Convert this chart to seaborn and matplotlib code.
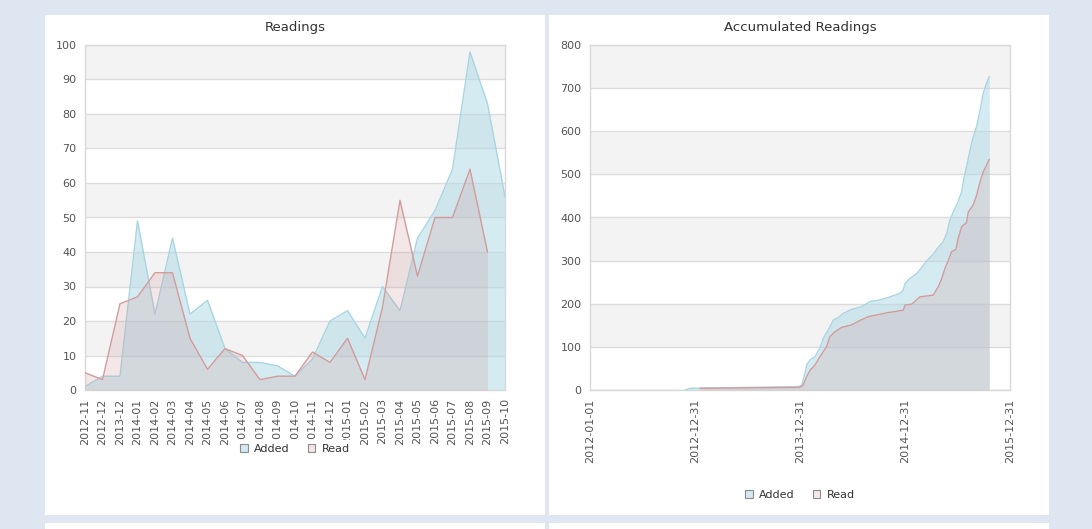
import numpy as np
import pandas as pd
import matplotlib
matplotlib.use("Agg")
import matplotlib.pyplot as plt
import matplotlib.dates as mdates
from matplotlib.patches import Patch, Rectangle
import seaborn as sns

# ------------------------------------------
# data
# ------------------------------------------
months = ['2012-11', '2012-12', '2013-12', '2014-01', '2014-02', '2014-03', '2014-04',
          '2014-05', '2014-06', '2014-07', '2014-08', '2014-09', '2014-10', '2014-11',
          '2014-12', '2015-01', '2015-02', '2015-03', '2015-04', '2015-05', '2015-06',
          '2015-07', '2015-08', '2015-09', '2015-10']
added_monthly = [1, 4, 4, 49, 22, 44, 22, 26, 12, 8, 8, 7, 4, 9, 20, 23, 15, 30, 23,
                 44, 52, 64, 98, 83, 56]
read_monthly = [5, 3, 25, 27, 34, 34, 15, 6, 12, 10, 3, 4, 4, 11, 8, 15, 3, 24, 55,
                33, 50, 50, 64, 40]

added_dates = ['2012-11-26', '2012-12-14', '2013-12-28', '2014-01-06', '2014-01-17',
               '2014-01-23', '2014-02-04', '2014-02-21', '2014-03-10', '2014-03-22',
               '2014-04-08', '2014-04-26', '2014-05-13', '2014-05-31', '2014-06-28',
               '2014-08-02', '2014-08-31', '2014-10-05', '2014-11-09', '2014-12-13',
               '2014-12-25', '2014-12-31', '2015-01-17', '2015-02-10', '2015-02-27',
               '2015-03-16', '2015-04-08', '2015-04-26', '2015-05-13', '2015-05-25',
               '2015-06-05', '2015-06-17', '2015-07-04', '2015-07-16', '2015-07-24',
               '2015-08-02', '2015-08-14', '2015-08-25', '2015-09-06', '2015-09-18',
               '2015-09-29', '2015-10-08', '2015-10-20']
added_total = [0, 4, 8, 12, 38, 58, 70, 77, 97, 120, 139, 162, 168, 178, 187, 193, 205,
               209, 216, 224, 232, 247, 259, 270, 284, 299, 315, 331, 344, 363, 394, 413,
               437, 460, 491, 518, 556, 587, 611, 649, 688, 707, 727]

read_dates = ['2013-01-17', '2013-12-31', '2014-01-10', '2014-01-23', '2014-02-04',
              '2014-02-21', '2014-03-10', '2014-04-02', '2014-04-14', '2014-05-01',
              '2014-05-24', '2014-06-28', '2014-07-27', '2014-08-25', '2014-09-23',
              '2014-10-28', '2014-12-25', '2014-12-31', '2015-01-23', '2015-02-21',
              '2015-04-08', '2015-04-26', '2015-05-08', '2015-05-19', '2015-05-31',
              '2015-06-11', '2015-06-26', '2015-07-04', '2015-07-16', '2015-08-02',
              '2015-08-08', '2015-08-25', '2015-09-06', '2015-09-18', '2015-09-29',
              '2015-10-11', '2015-10-20']
read_total = [4, 6, 10, 31, 46, 58, 77, 100, 124, 135, 145, 151, 161, 170, 174, 179, 185,
              197, 199, 216, 220, 240, 259, 282, 301, 321, 326, 352, 379, 388, 413, 429,
              452, 483, 506, 522, 535]

date_ticks = ['2012-01-01', '2012-12-31', '2013-12-31', '2014-12-31', '2015-12-31']

# ------------------------------------------
# styling
# ------------------------------------------
sns.set_style("white")
plt.rcParams['font.family'] = ['DejaVu Sans']

BG = '#dde6f1'
ADDED_LINE, ADDED_FILL = '#a9d5e3', '#add8e6'
READ_LINE, READ_FILL = '#d49b9b', '#cd9696'
GRID = '#dcdcdc'
BAND = '#f3f3f3'

fig = plt.figure(figsize=(10.92, 5.29), dpi=100)
fig.patch.set_facecolor(BG)

W, H = 1092, 529
for x0 in (45, 549):
    fig.add_artist(Rectangle((x0 / W, 14 / H), 500 / W, 500 / H, transform=fig.transFigure,
                             facecolor='white', edgecolor='none', zorder=-1))
    fig.add_artist(Rectangle((x0 / W, 0), 500 / W, 6 / H, transform=fig.transFigure,
                             facecolor='white', edgecolor='none', zorder=-1))

ax1 = fig.add_axes([85 / W, 139 / H, 420 / W, 345 / H])
ax2 = fig.add_axes([590 / W, 139 / H, 420 / W, 345 / H])


def style_axis(ax, top, step, title):
    ax.set_facecolor('white')
    for lo in np.arange(step, top, 2 * step):
        ax.axhspan(lo, lo + step, color=BAND, zorder=0, lw=0)
    ax.set_ylim(0, top)
    ax.set_yticks(np.arange(0, top + step, step))
    ax.yaxis.grid(True, color=GRID, lw=1, zorder=0.5)
    ax.xaxis.grid(False)
    ax.set_axisbelow(True)
    for sp in ax.spines.values():
        sp.set_color('#d9d9d9')
        sp.set_linewidth(1)
    ax.tick_params(length=0, labelsize=8, labelcolor='#555555', pad=6)
    ax.set_title(title, fontsize=9.5, color='#333333', pad=10)
    ax.set_xlabel('')
    ax.set_ylabel('')


def add_legend(ax, y):
    handles = [Patch(facecolor='#d4e9f1', edgecolor='#8c8c8c', lw=0.8, label='Added'),
               Patch(facecolor='#f3e7e7', edgecolor='#8c8c8c', lw=0.8, label='Read')]
    leg = ax.legend(handles=handles, loc='center', bbox_to_anchor=(0.5, y), ncol=2,
                    fontsize=8, frameon=True, facecolor='white', edgecolor='white',
                    framealpha=1, fancybox=False, handlelength=0.65, handleheight=0.65,
                    handletextpad=0.6, columnspacing=1.6, borderpad=0.35)
    leg.set_zorder(10)
    for t in leg.get_texts():
        t.set_color('#333333')


# ------------------------------------------
# left: monthly readings
# ------------------------------------------
left = pd.DataFrame({'month': months, 'pos': np.arange(len(months)), 'added': added_monthly})
left['read'] = pd.Series(read_monthly, dtype=float)

ax1.fill_between(left['pos'], left['added'], color=ADDED_FILL, alpha=0.5, lw=0, zorder=2)
sns.lineplot(data=left, x='pos', y='added', ax=ax1, color=ADDED_LINE, lw=1, zorder=3)
rd = left.dropna(subset=['read'])
ax1.fill_between(rd['pos'], rd['read'], color=READ_FILL, alpha=0.22, lw=0, zorder=4)
sns.lineplot(data=rd, x='pos', y='read', ax=ax1, color=READ_LINE, lw=1, zorder=5)

style_axis(ax1, 100, 10, 'Readings')
ax1.set_xlim(0, len(months) - 1)
ax1.set_xticks(left['pos'])
ax1.set_xticklabels(months, rotation=90)
add_legend(ax1, -0.171)

# ------------------------------------------
# right: accumulated readings
# ------------------------------------------
acc_added = pd.DataFrame({'date': pd.to_datetime(added_dates), 'total': added_total})
acc_read = pd.DataFrame({'date': pd.to_datetime(read_dates), 'total': read_total})

ax2.fill_between(acc_added['date'], acc_added['total'], color=ADDED_FILL, alpha=0.5, lw=0, zorder=2)
sns.lineplot(data=acc_added, x='date', y='total', ax=ax2, color=ADDED_LINE, lw=1, zorder=3)
ax2.fill_between(acc_read['date'], acc_read['total'], color=READ_FILL, alpha=0.22, lw=0, zorder=4)
sns.lineplot(data=acc_read, x='date', y='total', ax=ax2, color=READ_LINE, lw=1, zorder=5)

style_axis(ax2, 800, 100, 'Accumulated Readings')
ticks = pd.to_datetime(date_ticks)
ax2.set_xlim(ticks[0], ticks[-1])
ax2.set_xticks(ticks)
ax2.set_xticklabels(date_ticks, rotation=90)
add_legend(ax2, -0.304)

fig.savefig('out.png', dpi=100, facecolor=fig.get_facecolor())
